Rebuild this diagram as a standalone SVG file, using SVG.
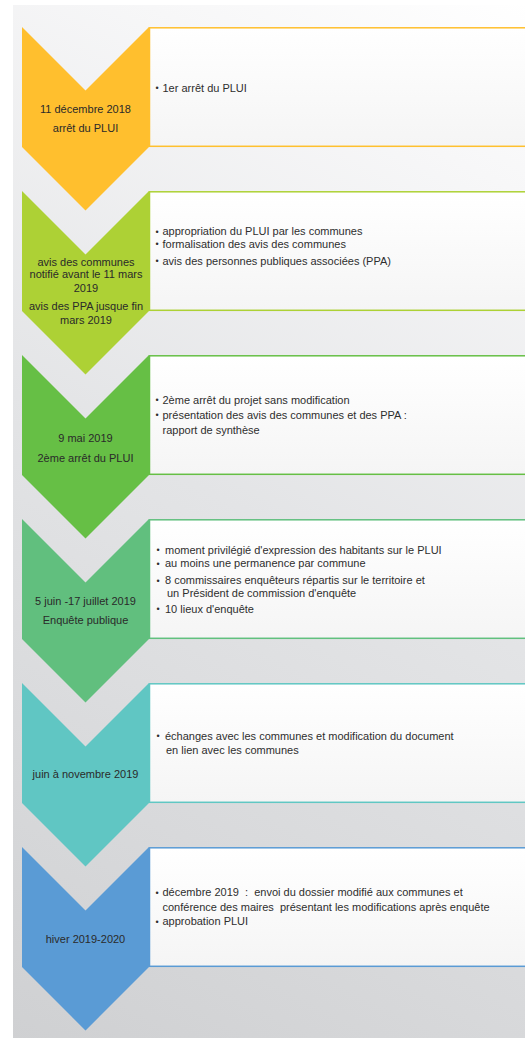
<svg xmlns="http://www.w3.org/2000/svg" width="525" height="1038" viewBox="0 0 525 1038">
<defs>
<linearGradient id="bg" gradientUnits="userSpaceOnUse" x1="0" y1="1038" x2="525" y2="0">
<stop offset="0" stop-color="#cfd0d2"/>
<stop offset="0.5" stop-color="#e3e4e6"/>
<stop offset="0.85" stop-color="#f7f7f8"/>
<stop offset="1" stop-color="#ffffff"/>
</linearGradient>
<linearGradient id="boxfill" x1="0" y1="0" x2="0" y2="1">
<stop offset="0" stop-color="#ffffff"/>
<stop offset="1" stop-color="#f5f5f5"/>
</linearGradient>
</defs>
<style>
text{font-family:"Liberation Sans",Arial,sans-serif;font-size:11px;fill:#2e2e2e;white-space:pre}
.lab{text-anchor:middle;fill:#2a2a2a}
.bul{font-size:9px}
.box{fill:url(#boxfill);stroke-width:1.5}
</style>
<rect x="13" y="5" width="512" height="1033" fill="url(#bg)"/>
<g id="connectors"></g>

<g id="step1">
<rect class="box" x="149.5" y="27.8" width="380" height="118.5" stroke="#ffc02e"/>
<polygon points="22,27 85.5,90.5 149,27 149,147 85.5,210.5 22,147" fill="#ffbf2e"/>
<text class="lab" x="85.5" y="112.5">11 décembre 2018</text>
<text class="lab" x="85.5" y="132">arrêt du PLUI</text>
<text class="bul" x="155.5" y="91">•</text><text x="162.5" y="91.5">1er arrêt du PLUI</text>
</g>

<g id="step2">
<rect class="box" x="149.5" y="191.8" width="380" height="118.5" stroke="#add135"/>
<polygon points="22,191 85.5,254.5 149,191 149,311 85.5,374.5 22,311" fill="#add135"/>
<text class="lab" x="86" y="265.5">avis des communes</text>
<text class="lab" x="86" y="278">notifié avant le 11 mars</text>
<text class="lab" x="86" y="291.5">2019</text>
<text class="lab" x="86" y="310">avis des PPA jusque fin</text>
<text class="lab" x="86" y="323.5">mars 2019</text>
<text class="bul" x="155.5" y="234.5">•</text><text x="162.5" y="235">appropriation du PLUI par les communes</text>
<text class="bul" x="155.5" y="247">•</text><text x="162.5" y="247.5">formalisation des avis des communes</text>
<text class="bul" x="155.5" y="264">•</text><text x="162.5" y="264.5">avis des personnes publiques associées (PPA)</text>
</g>

<g id="step3">
<rect class="box" x="149.5" y="355.8" width="380" height="118.5" stroke="#66bf45"/>
<polygon points="22,355 85.5,418.5 149,355 149,475 85.5,538.5 22,475" fill="#66bf45"/>
<text class="lab" x="85.5" y="441.5">9 mai 2019</text>
<text class="lab" x="85.5" y="461.5">2ème arrêt du PLUI</text>
<text class="bul" x="155.5" y="403">•</text><text x="162.5" y="403.5">2ème arrêt du projet sans modification</text>
<text class="bul" x="155.5" y="418">•</text><text x="162.5" y="418.5">présentation des avis des communes et des PPA :</text>
<text x="162.5" y="433.5">rapport de synthèse</text>
</g>

<g id="step4">
<rect class="box" x="149.5" y="519.8" width="380" height="118.5" stroke="#61c07e"/>
<polygon points="22,519 85.5,582.5 149,519 149,639 85.5,702.5 22,639" fill="#61bf7e"/>
<text class="lab" x="85.5" y="604.5">5 juin -17 juillet 2019</text>
<text class="lab" x="85.5" y="624">Enquête publique</text>
<text class="bul" x="156.5" y="553">•</text><text x="165" y="553.5">moment privilégié d'expression des habitants sur le PLUI</text>
<text class="bul" x="156.5" y="566.5">•</text><text x="165" y="567">au moins une permanence par commune</text>
<text class="bul" x="156.5" y="583.5">•</text><text x="165" y="584">8 commissaires enquêteurs répartis sur le territoire et</text>
<text x="167" y="597">un Président de commission d'enquête</text>
<text class="bul" x="156.5" y="612">•</text><text x="165" y="612.5">10 lieux d'enquête</text>
</g>

<g id="step5">
<rect class="box" x="149.5" y="683.8" width="380" height="118.5" stroke="#60c7c3"/>
<polygon points="22,683 85.5,746.5 149,683 149,803 85.5,866.5 22,803" fill="#60c6c3"/>
<text class="lab" x="85.5" y="778">juin à novembre 2019</text>
<text class="bul" x="156.5" y="739">•</text><text x="165" y="739.5">échanges avec les communes et modification du document</text>
<text x="166" y="753.5">en lien avec les communes</text>
</g>

<g id="step6">
<rect class="box" x="149.5" y="847.8" width="380" height="118.5" stroke="#5a9bd5"/>
<polygon points="22,847 85.5,910.5 149,847 149,967 85.5,1030.5 22,967" fill="#5a9bd5"/>
<text class="lab" x="85.5" y="943">hiver 2019-2020</text>
<text class="bul" x="155.5" y="895.5">•</text><text x="162.5" y="896">décembre 2019  :  envoi du dossier modifié aux communes et</text>
<text x="162.5" y="910.5">conférence des maires  présentant les modifications après enquête</text>
<text class="bul" x="155.5" y="924.5">•</text><text x="162.5" y="925">approbation PLUI</text>
</g>
</svg>
